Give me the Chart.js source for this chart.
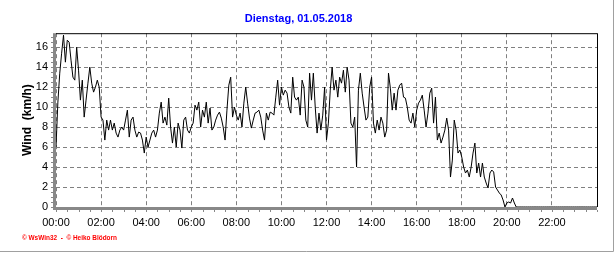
<!DOCTYPE html>
<html>
<head>
<meta charset="utf-8">
<script src="https://cdn.jsdelivr.net/npm/chart.js@4/dist/chart.umd.min.js"></script>
<style>
  html, body { margin: 0; padding: 0; background: #fff; }
  #wrap { width: 616px; height: 253px; }
</style>
</head>
<body>
<div id="wrap"><canvas id="windChart" width="616" height="253"></canvas></div>
<script>
// Wind speed (km/h), one value every 5 minutes starting at 00:00
const stepMinutes = 5;
const windKmh = [
  6.0, 10.5, 13.4, 15.4, 17.2, 14.5, 16.7, 16.5, 14.7, 13.0, 12.7, 16.0,   // 00
  13.7, 10.7, 12.7, 9.0, 10.7, 12.4, 14.0, 12.4, 11.5, 12.0, 12.7, 12.0,   // 01
  9.0, 8.7, 6.7, 8.7, 7.7, 8.7, 7.7, 8.4, 7.4, 7.0, 7.7, 8.0,              // 02
  7.7, 8.7, 9.7, 7.0, 8.7, 9.0, 7.7, 7.0, 7.5, 7.4, 6.7, 5.4,              // 03
  7.0, 6.0, 6.7, 7.4, 7.7, 7.0, 7.7, 9.4, 10.5, 8.4, 9.0, 8.2,             // 04
  10.9, 8.0, 6.4, 8.0, 6.0, 8.4, 7.7, 5.9, 8.7, 9.0, 7.7, 7.4,             // 05
  8.0, 8.4, 10.2, 9.7, 10.5, 8.0, 9.7, 9.0, 10.5, 8.4, 9.9, 7.7,           // 06
  8.0, 8.7, 9.2, 9.5, 8.9, 8.0, 6.7, 9.7, 12.2, 13.0, 9.0,                 // 07
  10.0, 9.2, 8.7, 9.4, 8.0, 10.4, 12.0, 10.4, 8.9, 7.9, 8.7, 9.4,
  9.5, 9.7, 9.0, 7.7, 6.7, 9.4, 8.7, 9.5, 9.4, 9.2, 11.0, 12.7,
  10.2, 12.0, 11.2, 11.7, 11.4, 10.0, 9.4, 13.0, 11.0, 10.7, 11.0, 9.2,
  12.7, 12.0, 8.7, 8.0, 13.4, 10.7, 13.4, 10.0, 7.4, 9.4, 7.7, 9.2,
  12.0, 6.7, 8.4, 11.7, 14.0, 11.7, 12.7, 11.0, 13.0, 12.4, 13.7, 11.5,
  14.0, 12.7, 8.4, 8.0, 9.0, 4.0, 11.7, 13.4, 11.4, 10.0, 8.7, 9.0,
  12.0, 13.0, 8.4, 7.4, 8.7, 7.7, 9.0, 8.4, 7.0, 7.7, 13.4, 11.9,
  9.7, 11.4, 9.7, 11.7, 12.2, 12.4, 11.0, 10.9, 10.0, 8.7, 8.4, 9.4,
  8.0, 9.7, 10.4, 10.7, 11.2, 9.7, 8.0, 9.4, 11.4, 11.9, 8.4, 11.0,
  6.7, 7.4, 6.4, 7.0, 7.7, 8.9, 7.7, 3.0, 4.7, 8.7, 7.7,
  5.4, 5.7, 5.0, 4.0, 3.4, 3.7, 3.0, 4.0, 5.4, 6.4, 3.4, 4.4,
  3.0, 4.4, 3.0, 2.4, 1.9, 3.4, 3.7, 3.5, 2.0, 1.7, 1.4, 1.2,
  0.7, 0.0, 0.4, 0.5, 0.4, 0.9, 0.4, 0.0,
  0, 0, 0, 0, 0, 0, 0, 0, 0, 0, 0, 0, 0, 0, 0, 0, 0, 0, 0, 0,
  0, 0, 0, 0, 0, 0, 0, 0, 0, 0, 0, 0, 0, 0, 0, 0, 0, 0, 0, 0,
  0, 0, 0
];
const yTicks = [0, 2, 4, 6, 8, 10, 12, 14, 16];
const xTickHours = [0, 2, 4, 6, 8, 10, 12, 14, 16, 18, 20, 22];
const titleText = 'Dienstag, 01.05.2018';
const yTitle = 'Wind  (km/h)';
const footerText = '\u00A9 WsWin32  -  \u00A9 Heiko Bl\u00F6dorn';

const points = windKmh.map((v, i) => ({ x: i * stepMinutes / 60, y: v }));

const frame = {
  id: 'frame',
  beforeDatasetsDraw(chart) {
    const { ctx, chartArea: a, scales } = chart;
    ctx.save();
    ctx.fillStyle = '#888888';
    // thick grey axes
    ctx.fillRect(a.left - 3, a.top, 3, a.bottom - a.top + 3);
    ctx.fillRect(a.left - 3, a.bottom, a.right - a.left + 3, 3);
    // minor ticks
    ctx.strokeStyle = '#888888';
    ctx.lineWidth = 1;
    ctx.beginPath();
    for (let h = 0; h <= 24; h += 0.5) {
      const x = Math.round(scales.x.getPixelForValue(h)) + 0.5;
      ctx.moveTo(x, a.bottom + 3);
      ctx.lineTo(x, a.bottom + 5);
    }
    for (let v = 0; v <= 17; v += 0.5) {
      const y = Math.round(scales.y.getPixelForValue(v)) + 0.5;
      ctx.moveTo(a.left - 5, y);
      ctx.lineTo(a.left - 3, y);
    }
    ctx.stroke();
    // black top / right border
    ctx.strokeStyle = '#000';
    ctx.beginPath();
    ctx.moveTo(a.left, a.top + 0.5);
    ctx.lineTo(a.right + 0.5, a.top + 0.5);
    ctx.lineTo(a.right + 0.5, a.bottom);
    ctx.stroke();
    ctx.restore();
  },
  afterDraw(chart) {
    const { ctx } = chart;
    ctx.save();
    ctx.fillStyle = '#ff0000';
    ctx.font = 'bold 7px "Liberation Sans", Arial, sans-serif';
    ctx.textBaseline = 'middle';
    ctx.fillText(footerText, 22, 238, 95);
    ctx.strokeStyle = '#a0a0a0';
    ctx.lineWidth = 1;
    ctx.beginPath();
    ctx.moveTo(613.5, 0);
    ctx.lineTo(613.5, 251.5);
    ctx.lineTo(0, 251.5);
    ctx.stroke();
    ctx.restore();
  }
};

const ctx = document.getElementById('windChart').getContext('2d');
new Chart(ctx, {
  type: 'line',
  data: {
    datasets: [{
      data: points,
      borderColor: '#000',
      borderWidth: 1,
      pointRadius: 0,
      tension: 0,
      fill: false
    }]
  },
  options: {
    responsive: false,
    animation: false,
    events: [],
    layout: { padding: { left: 0, right: 19, top: 0, bottom: 0 } },
    plugins: {
      legend: { display: false },
      tooltip: { enabled: false },
      title: {
        display: true,
        text: titleText,
        color: '#0000ff',
        font: { family: '"Liberation Sans", Arial, sans-serif', size: 11, weight: 'bold' },
        padding: { top: 12, bottom: 8 }
      }
    },
    scales: {
      x: {
        type: 'linear',
        min: 0,
        max: 24,
        afterFit: s => { s.height = 46; },
        afterBuildTicks: s => { s.ticks = xTickHours.concat([24]).map(v => ({ value: v })); },
        ticks: {
          autoSkip: false,
          maxRotation: 0,
          padding: 9,
          color: '#000',
          font: { family: '"Liberation Sans", Arial, sans-serif', size: 11 },
          callback: v => xTickHours.includes(v) ? String(v).padStart(2, '0') + ':00' : ''
        },
        grid: { color: '#808080', lineWidth: 1, drawTicks: false },
        border: { display: false, dash: [4, 3] }
      },
      y: {
        min: 0,
        max: 17.4,
        afterFit: s => { s.width = 56; },
        afterBuildTicks: s => { s.ticks = yTicks.map(v => ({ value: v })); },
        ticks: {
          padding: 8,
          color: '#000',
          font: { family: '"Liberation Sans", Arial, sans-serif', size: 11 }
        },
        title: {
          display: true,
          text: yTitle,
          color: '#000',
          font: { family: '"Liberation Sans", Arial, sans-serif', size: 12, weight: 'bold' },
          padding: { top: 20, bottom: 0 }
        },
        grid: { color: '#808080', lineWidth: 1, drawTicks: false },
        border: { display: false, dash: [4, 3] }
      }
    }
  },
  plugins: [frame]
});
</script>
</body>
</html>
